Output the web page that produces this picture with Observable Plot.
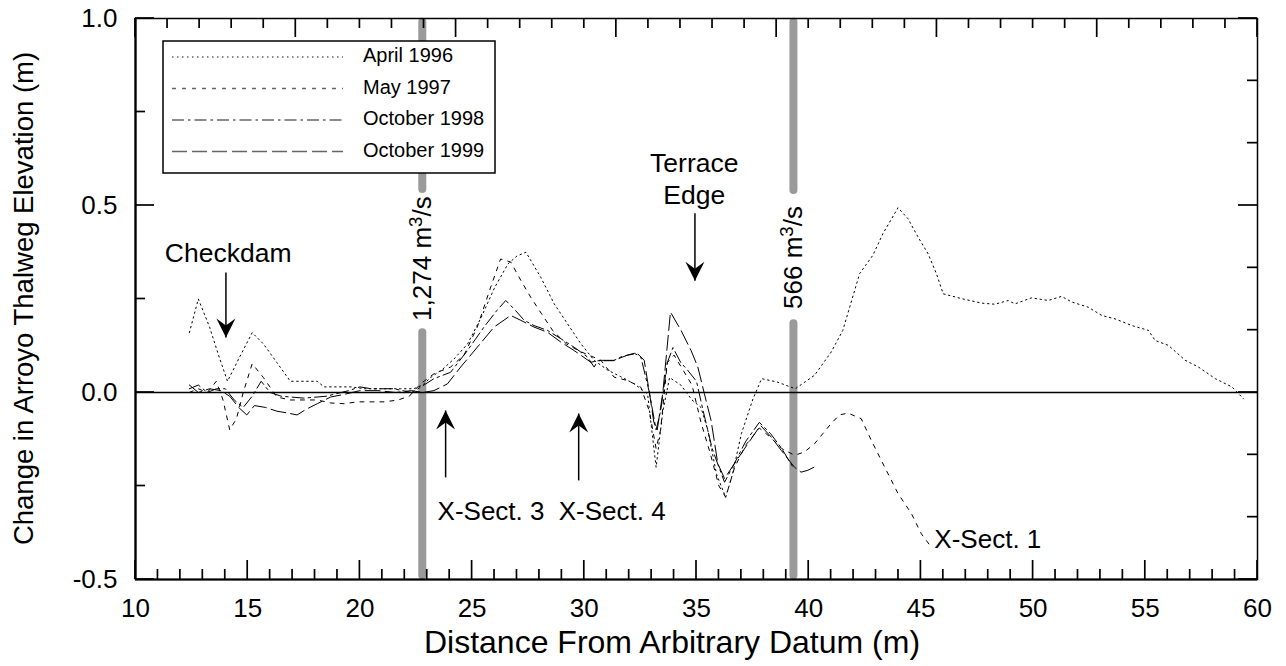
<!DOCTYPE html>
<html>
<head>
<meta charset="utf-8">
<script src="https://cdn.jsdelivr.net/npm/d3@7"></script>
<script src="https://cdn.jsdelivr.net/npm/@observablehq/plot@0.6"></script>
<style>
  html, body { margin: 0; padding: 0; background: #fff; }
  #chart { width: 1286px; height: 666px; }
</style>
</head>
<body>
<div id="chart"></div>
<script>
// ---------------- DATA (distance m, change in elevation m) ----------------
const april1996 = [[12.4,0.16],[12.8,0.25],[13.3,0.175],[13.7,0.1],[14.1,0.03],[14.6,0.09],[15.2,0.16],[15.7,0.13],[16.3,0.08],[16.9,0.03],[17.5,0.03],[18.1,0.03],[18.4,0.015],[19.0,0.015],[19.6,0.015],[20.2,0.01],[21.0,0.01],[21.8,0.01],[22.4,0.01],[22.8,0.02],[23.15,0.04],[23.7,0.063],[24.2,0.09],[24.8,0.13],[25.4,0.2],[26.0,0.28],[26.6,0.344],[27.0,0.365],[27.4,0.375],[28.06,0.308],[28.66,0.237],[29.25,0.184],[29.85,0.13],[30.44,0.086],[31.04,0.06],[31.63,0.042],[32.23,0.023],[32.82,-0.004],[33.2,-0.2],[33.5,-0.05],[33.8,0.04],[34.3,0.02],[34.8,-0.02],[35.2,-0.04],[35.5,-0.1],[35.9,-0.22],[36.3,-0.28],[36.6,-0.22],[37.0,-0.11],[37.5,-0.02],[37.9,0.037],[38.6,0.028],[39.4,0.01],[40.26,0.046],[41.0,0.108],[41.52,0.166],[42.27,0.318],[42.86,0.367],[43.31,0.425],[43.98,0.494],[44.42,0.465],[44.87,0.416],[45.32,0.371],[45.69,0.318],[45.99,0.264],[46.81,0.251],[47.7,0.239],[48.29,0.236],[48.89,0.246],[49.19,0.237],[49.93,0.253],[50.67,0.246],[51.27,0.257],[51.72,0.242],[52.46,0.228],[53.06,0.206],[53.65,0.197],[54.4,0.179],[55.14,0.166],[55.44,0.139],[56.03,0.126],[56.78,0.086],[57.37,0.068],[58.12,0.037],[58.86,0.015],[59.38,-0.017]];

const may1997 = [[12.4,0.0],[12.8,0.01],[13.2,0.0],[13.6,0.03],[13.9,-0.02],[14.2,-0.1],[14.5,-0.07],[14.8,0.0],[15.2,0.077],[15.7,0.04],[16.3,-0.012],[16.9,-0.02],[17.5,-0.02],[18.1,-0.02],[18.7,-0.028],[19.3,-0.03],[19.9,-0.025],[20.5,-0.025],[21.1,-0.025],[21.7,-0.02],[22.2,-0.01],[22.7,0.023],[23.3,0.05],[24.04,0.068],[24.64,0.1],[25.23,0.175],[25.83,0.282],[26.27,0.357],[26.72,0.349],[27.17,0.3],[27.61,0.255],[28.1,0.21],[28.6,0.165],[29.2,0.13],[29.8,0.11],[30.4,0.095],[30.74,0.086],[31.33,0.041],[31.93,0.032],[32.52,0.014],[32.9,-0.05],[33.2,-0.15],[33.4,-0.1],[33.7,0.08],[34.0,0.1],[34.4,0.06],[34.8,0.02],[35.2,-0.08],[35.6,-0.16],[36.0,-0.25],[36.3,-0.28],[36.7,-0.2],[37.2,-0.14],[37.8,-0.095],[38.3,-0.12],[38.8,-0.15],[39.37,-0.168],[39.81,-0.159],[40.26,-0.137],[40.63,-0.11],[41.0,-0.083],[41.37,-0.06],[41.75,-0.055],[42.34,-0.07],[42.79,-0.128],[43.39,-0.2],[43.98,-0.27],[44.58,-0.324],[45.02,-0.378],[45.47,-0.414]];

const october1998 = [[12.4,0.01],[12.8,0.02],[13.2,0.0],[13.6,0.01],[14.0,0.01],[14.4,-0.02],[14.8,-0.04],[15.2,-0.01],[15.6,0.03],[16.0,0.0],[16.5,-0.01],[17.5,-0.015],[18.5,-0.01],[19.5,0.005],[20.0,0.015],[20.5,0.01],[21.5,0.01],[22.3,0.0],[22.7,0.014],[23.3,0.037],[24.04,0.054],[24.79,0.112],[25.53,0.175],[26.1,0.219],[26.5,0.246],[26.94,0.219],[27.32,0.193],[27.76,0.179],[28.36,0.166],[28.95,0.144],[29.55,0.121],[30.14,0.095],[30.44,0.068],[30.6,0.085],[31.3,0.085],[31.63,0.095],[32.23,0.105],[32.52,0.095],[32.9,0.0],[33.2,-0.1],[33.4,-0.05],[33.7,0.08],[33.95,0.12],[34.3,0.08],[34.6,0.06],[35.0,0.03],[35.3,-0.05],[35.7,-0.15],[36.0,-0.2],[36.25,-0.24],[36.6,-0.2],[37.2,-0.13],[37.8,-0.08],[38.3,-0.11],[38.8,-0.15],[39.3,-0.2]];

const october1999 = [[12.4,0.02],[12.8,0.0],[13.3,0.01],[13.8,0.005],[14.2,-0.01],[14.6,-0.04],[14.96,-0.06],[15.3,-0.035],[15.8,-0.04],[16.3,-0.05],[16.8,-0.055],[17.2,-0.06],[17.6,-0.045],[18.1,-0.03],[18.7,-0.012],[19.3,-0.005],[20.0,0.005],[20.8,0.005],[21.6,0.0],[22.3,0.005],[22.8,0.0],[23.3,0.005],[23.9,0.023],[24.49,0.068],[25.23,0.121],[25.98,0.175],[26.72,0.206],[27.17,0.193],[27.76,0.175],[28.36,0.161],[28.95,0.135],[29.55,0.112],[30.29,0.081],[30.74,0.086],[31.33,0.086],[31.93,0.1],[32.37,0.104],[32.67,0.086],[32.9,0.0],[33.1,-0.08],[33.25,-0.1],[33.5,0.0],[33.84,0.215],[34.31,0.166],[34.76,0.112],[35.06,0.068],[35.35,-0.003],[35.65,-0.075],[35.95,-0.19],[36.25,-0.23],[36.69,-0.19],[37.29,-0.137],[37.85,-0.088],[38.33,-0.119],[38.78,-0.155],[39.37,-0.2],[39.66,-0.213],[39.96,-0.208],[40.33,-0.197]];

const seriesNames = ["April 1996", "May 1997", "October 1998", "October 1999"];
const xTickLabels = [10, 15, 20, 25, 30, 35, 40, 45, 50, 55, 60];
const yTickLabels = [-0.5, 0.0, 0.5, 1.0];

// discharge lines (m) and their labels
const dischargeX = [22.78, 39.32];
const dischargeLabels = ["1,274 m³/s", "566 m³/s"];
const dischargeLabelY = [0.358, 0.361];
const dischargeGapTop = [0.543, 0.54];
const dischargeGapBottom = [0.16, 0.184];

// annotation text and arrows
const noteText = ["Checkdam", "Terrace\nEdge", "X-Sect. 3", "X-Sect. 4", "X-Sect. 1"];
const noteX = [14.13, 34.9, 23.46, 28.86, 45.6];
const noteY = [0.375, 0.575, -0.318, -0.318, -0.393];
const noteAnchor = ["middle", "middle", "start", "start", "start"];
const arrowX = [14.03, 34.93, 23.82, 29.75];
const arrowTail = [0.321, 0.479, -0.227, -0.235];
const arrowTip = [0.147, 0.299, -0.048, -0.056];

// ---------------- CHART ----------------
const styles = [
  {data: april1996, dash: "1.5,3.5"},
  {data: may1997, dash: "4,6"},
  {data: october1998, dash: "12,4,2.5,4"},
  {data: october1999, dash: "15,5"}
];

const W = 1286, H = 666, mL = 135, mR = 29, mT = 18, mB = 87;
const iW = W - mL - mR, iH = H - mT - mB;

const xMinor = d3.range(10, 61, 1).filter(v => v % 5 !== 0);
const topTicks = d3.range(0, 36).map(k => 10 + k * 50 / 35);
const topMajor = topTicks.filter((v, k) => k % 5 === 0);
const topMinor = topTicks.filter((v, k) => k % 5 !== 0);
const yMinor = [-0.25, 0.25, 0.75];
const rightTicks = d3.range(0, 10).map(k => -0.5 + k / 6);
const rightMajor = rightTicks.filter((v, k) => k % 3 === 0);
const rightMinor = rightTicks.filter((v, k) => k % 3 !== 0);

const bars = [];
dischargeX.forEach((x, i) => {
  bars.push({x, y1: 0.99, y2: dischargeGapTop[i]});
  bars.push({x, y1: dischargeGapBottom[i], y2: -0.49});
});
const dLabels = dischargeX.map((x, i) => ({x, y: dischargeLabelY[i], t: dischargeLabels[i]}));
const notes = noteText.map((t, i) => ({t, x: noteX[i], y: noteY[i], a: noteAnchor[i]}));
const arrows = arrowX.map((x, i) => ({x, y1: arrowTail[i], y2: arrowTip[i], down: arrowTip[i] < arrowTail[i]}));

const headDown = {draw(c) { c.moveTo(0, 0); c.lineTo(-9.5, -19); c.lineTo(0, -12); c.lineTo(9.5, -19); c.closePath(); }};
const headUp = {draw(c) { c.moveTo(0, 0); c.lineTo(-9.5, 19); c.lineTo(0, 12); c.lineTo(9.5, 19); c.closePath(); }};

const font = "'Liberation Sans', Arial, Helvetica, sans-serif";

const marks = [
  Plot.ruleX(bars, {x: "x", y1: "y1", y2: "y2", stroke: "#9a9a9a", strokeWidth: 8, strokeLinecap: "round"}),
  Plot.ruleY([0], {stroke: "black", strokeWidth: 1.5}),
  ...styles.map(s => Plot.line(s.data, {x: d => d[0], y: d => d[1], stroke: "black", strokeWidth: 1, strokeDasharray: s.dash})),
  Plot.frame({stroke: "black", strokeWidth: 1.5}),
  Plot.ruleX([10], {stroke: "black", strokeWidth: 2.2}),
  Plot.ruleY([-0.5], {stroke: "black", strokeWidth: 2.2}),
  Plot.axisX(xTickLabels, {anchor: "bottom", tickSize: 0, tickPadding: 19, fontSize: 26, label: null, tickFormat: d => String(d)}),
  Plot.axisY(yTickLabels, {anchor: "left", tickSize: 0, tickPadding: 18, fontSize: 26, label: null, tickFormat: d => d.toFixed(1)}),
  Plot.text(dLabels, {x: "x", y: "y", text: "t", rotate: -90, fontSize: 26, fill: "black"}),
  Plot.text(notes.filter(n => n.a === "middle"), {x: "x", y: "y", text: "t", fontSize: 26.5, textAnchor: "middle", lineHeight: 1.2, fill: "black"}),
  Plot.text(notes.filter(n => n.a === "start"), {x: "x", y: "y", text: "t", fontSize: 26, textAnchor: "start", fill: "black"}),
  Plot.link(arrows, {x1: "x", x2: "x", y1: "y1", y2: "y2", stroke: "black", strokeWidth: 1.5}),
  Plot.dot(arrows.filter(a => a.down), {x: "x", y: "y2", symbol: headDown, r: 5, fill: "black", stroke: "none"}),
  Plot.dot(arrows.filter(a => !a.down), {x: "x", y: "y2", symbol: headUp, r: 5, fill: "black", stroke: "none"})
];

const chart = Plot.plot({
  width: W, height: H,
  marginLeft: mL, marginRight: mR, marginTop: mT, marginBottom: mB,
  x: {domain: [10, 60]},
  y: {domain: [-0.5, 1.0]},
  style: {fontFamily: font, background: "white", color: "black", overflow: "visible"},
  marks
});

// superscript 3 in the discharge labels
chart.querySelectorAll("text, tspan").forEach(el => {
  if (el.childNodes.length === 1 && el.firstChild.nodeType === 3 && el.textContent.includes("³")) {
    const [a, b] = el.textContent.split("³");
    el.textContent = "";
    const ns = "http://www.w3.org/2000/svg";
    const t1 = document.createElementNS(ns, "tspan"); t1.textContent = a;
    const t2 = document.createElementNS(ns, "tspan"); t2.textContent = "3";
    t2.setAttribute("dy", "-0.45em"); t2.setAttribute("font-size", "0.72em");
    const t3 = document.createElementNS(ns, "tspan"); t3.textContent = b;
    t3.setAttribute("dy", "0.32em");
    el.append(t1, t2, t3);
  }
});

const svg = d3.select(chart);
const xs = chart.scale("x"), ys = chart.scale("y");
const x0 = xs.apply(10), x1 = xs.apply(60), y0 = ys.apply(-0.5), y1 = ys.apply(1.0);

// inward tick marks on all four sides, placed through Plot's scales
const tg = svg.append("g").attr("fill", "none");
const tick = (ax, ay, bx, by) => tg.append("path")
  .attr("d", `M${ax},${ay}L${bx},${by}`).attr("stroke", "black").attr("stroke-width", 1.7);
xTickLabels.forEach(v => tick(xs.apply(v), y0, xs.apply(v), y0 - 19));
xMinor.forEach(v => tick(xs.apply(v), y0, xs.apply(v), y0 - 10));
topMajor.forEach(v => tick(xs.apply(v), y1, xs.apply(v), y1 + 19));
topMinor.forEach(v => tick(xs.apply(v), y1, xs.apply(v), y1 + 10));
yTickLabels.forEach(v => tick(x0, ys.apply(v), x0 + 19, ys.apply(v)));
yMinor.forEach(v => tick(x0, ys.apply(v), x0 + 10, ys.apply(v)));
rightMajor.forEach(v => tick(x1, ys.apply(v), x1 - 19, ys.apply(v)));
rightMinor.forEach(v => tick(x1, ys.apply(v), x1 - 10, ys.apply(v)));

// axis titles
svg.append("text").attr("x", 672).attr("y", 645).attr("text-anchor", "middle")
  .attr("dominant-baseline", "middle").attr("font-size", 32).attr("font-family", font)
  .text("Distance From Arbitrary Datum (m)");
svg.append("text").attr("transform", `translate(26,${mT + iH / 2}) rotate(-90)`).attr("text-anchor", "middle")
  .attr("dominant-baseline", "middle").attr("font-size", 27.5).attr("font-family", font)
  .text("Change in Arroyo Thalweg Elevation (m)");

// legend
const lg = svg.append("g");
lg.append("rect").attr("x", 163).attr("y", 41).attr("width", 332).attr("height", 132)
  .attr("fill", "white").attr("stroke", "black").attr("stroke-width", 1.5);
seriesNames.forEach((name, i) => {
  const cy = 57 + i * 31.5;
  lg.append("line").attr("x1", 172).attr("x2", 343).attr("y1", cy).attr("y2", cy)
    .attr("stroke", "#666").attr("stroke-width", 1.3).attr("stroke-dasharray", styles[i].dash);
  lg.append("text").attr("x", 363).attr("y", cy).attr("text-anchor", "start").attr("dominant-baseline", "middle")
    .attr("font-size", 20).attr("font-family", font).text(name);
});

document.getElementById("chart").appendChild(chart);
</script>
</body>
</html>
